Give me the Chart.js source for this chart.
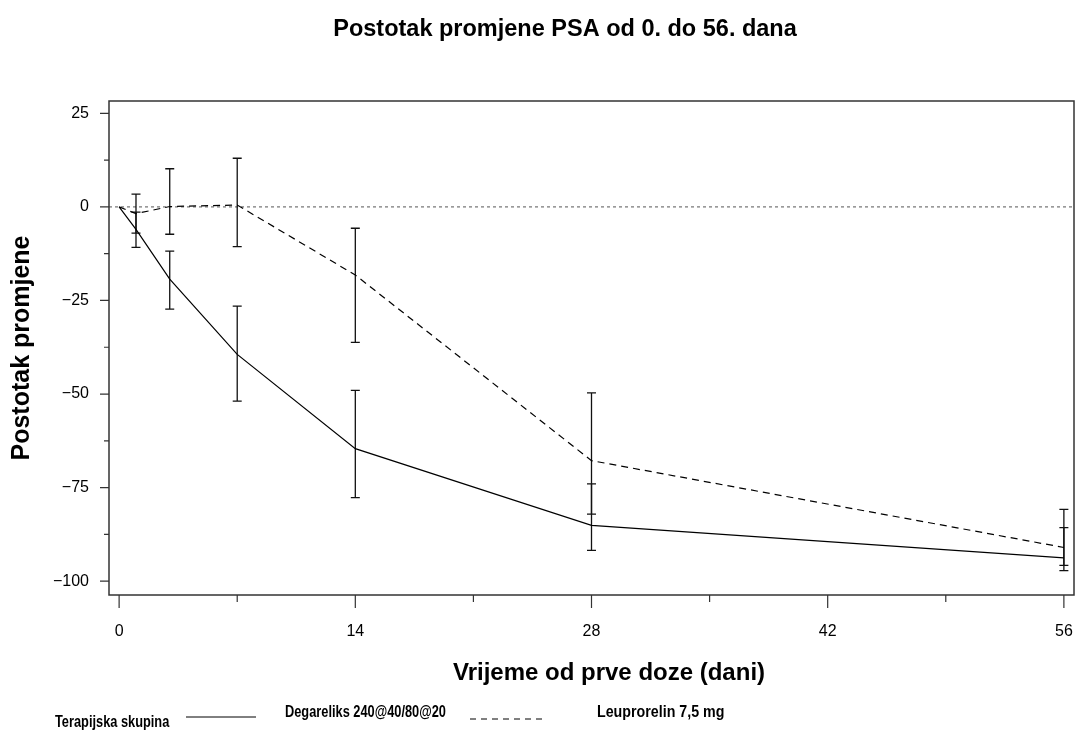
<!DOCTYPE html>
<html>
<head>
<meta charset="utf-8">
<script src="https://cdn.jsdelivr.net/npm/chart.js@4.4.0/dist/chart.umd.min.js"></script>
<style>
  html, body { margin: 0; padding: 0; background: #fff; }
</style>
</head>
<body>
<canvas id="chart" width="1077" height="735"></canvas>
<script>
// days since first dose
const days = [0, 1, 3, 7, 14, 28, 56];

// Degareliks 240@40/80@20 (solid)
const degareliks = [0, -6.0, -19.3, -39.4, -64.6, -85.1, -93.8];
const degLower = [null, -10.8, -27.3, -51.9, -77.7, -91.8, -95.8];
const degUpper = [null, -1.4, -11.8, -26.5, -49.0, -74.0, -85.7];

// Leuprorelin 7,5 mg (dashed)
const leuprorelin = [0, -1.8, 0.1, 0.5, -18.2, -67.8, -91.0];
const leuLower = [null, -7.0, -7.3, -10.6, -36.2, -82.1, -97.2];
const leuUpper = [null, 3.4, 10.2, 13.0, -5.7, -49.7, -80.8];

const xTicks = [0, 14, 28, 42, 56];
const xMinor = [7, 21, 35, 49];
const yTicks = [25, 0, -25, -50, -75, -100];
const yMinor = [12.5, -12.5, -37.5, -62.5, -87.5];

const titleText = 'Postotak promjene PSA od 0. do 56. dana';
const xTitleText = 'Vrijeme od prve doze (dani)';

const toPoints = (vals) => days.map((d, i) => ({ x: d, y: vals[i] }));
const minus = (v) => String(v).replace('-', '\u2212');

Chart.defaults.font.family = "'Liberation Sans', Arial, sans-serif";
Chart.defaults.color = '#000';

// narrow-looking text for the legend row
function narrowText(ctx, text, x, y, sx) {
    ctx.save();
    ctx.translate(x, y);
    ctx.scale(sx, 1);
    ctx.fillText(text, 0, 0);
    ctx.restore();
}

// frame, tick marks, zero line, error bars, titles and the legend row
const decorations = {
    id: 'decorations',
    beforeDatasetsDraw(chart) {
        const { ctx, chartArea: a, scales: { x, y } } = chart;
        ctx.save();
        // zero reference line
        ctx.strokeStyle = '#555';
        ctx.lineWidth = 1;
        ctx.setLineDash([3, 3]);
        ctx.beginPath();
        ctx.moveTo(a.left, y.getPixelForValue(0));
        ctx.lineTo(a.right, y.getPixelForValue(0));
        ctx.stroke();
        ctx.setLineDash([]);

        // error bars
        ctx.strokeStyle = '#111';
        ctx.lineWidth = 1.3;
        const bars = (lo, hi) => {
            days.forEach((d, i) => {
                if (lo[i] === null) return;
                const px = x.getPixelForValue(d);
                const p1 = y.getPixelForValue(lo[i]);
                const p2 = y.getPixelForValue(hi[i]);
                ctx.beginPath();
                ctx.moveTo(px, p1); ctx.lineTo(px, p2);
                ctx.moveTo(px - 4.5, p1); ctx.lineTo(px + 4.5, p1);
                ctx.moveTo(px - 4.5, p2); ctx.lineTo(px + 4.5, p2);
                ctx.stroke();
            });
        };
        bars(degLower, degUpper);
        bars(leuLower, leuUpper);
        ctx.restore();
    },
    afterDraw(chart) {
        const { ctx, chartArea: a, scales: { x, y } } = chart;
        ctx.save();
        ctx.strokeStyle = '#333';
        ctx.lineWidth = 1.5;
        ctx.strokeRect(a.left, a.top, a.right - a.left, a.bottom - a.top);

        ctx.lineWidth = 1.2;
        ctx.beginPath();
        xTicks.forEach(v => { const p = x.getPixelForValue(v); ctx.moveTo(p, a.bottom); ctx.lineTo(p, a.bottom + 13); });
        xMinor.forEach(v => { const p = x.getPixelForValue(v); ctx.moveTo(p, a.bottom); ctx.lineTo(p, a.bottom + 7); });
        yTicks.forEach(v => { const p = y.getPixelForValue(v); ctx.moveTo(a.left, p); ctx.lineTo(a.left - 9, p); });
        yMinor.forEach(v => { const p = y.getPixelForValue(v); ctx.moveTo(a.left, p); ctx.lineTo(a.left - 5, p); });
        ctx.stroke();

        // chart title and x axis title
        ctx.fillStyle = '#000';
        ctx.textAlign = 'center';
        ctx.textBaseline = 'middle';
        ctx.font = "bold 23.5px 'Liberation Sans', sans-serif";
        ctx.fillText(titleText, 565, 30);
        ctx.font = "bold 24px 'Liberation Sans', sans-serif";
        ctx.fillText(xTitleText, 609, 673);

        // legend row
        ctx.textAlign = 'left';
        ctx.font = "bold 16px 'Liberation Sans', sans-serif";
        narrowText(ctx, 'Terapijska skupina', 55, 723, 0.8);
        narrowText(ctx, 'Degareliks 240@40/80@20', 285, 713, 0.8);
        narrowText(ctx, 'Leuprorelin 7,5 mg', 597, 713, 0.89);
        ctx.strokeStyle = '#000';
        ctx.lineWidth = 1;
        ctx.beginPath();
        ctx.moveTo(186, 717); ctx.lineTo(256, 717);
        ctx.stroke();
        ctx.setLineDash([6, 5]);
        ctx.beginPath();
        ctx.moveTo(470, 719); ctx.lineTo(546, 719);
        ctx.stroke();
        ctx.restore();
    }
};

new Chart(document.getElementById('chart'), {
    type: 'line',
    data: {
        datasets: [{
            label: 'Degareliks 240@40/80@20',
            data: toPoints(degareliks),
            borderColor: '#000',
            borderWidth: 1.2,
            pointRadius: 0,
            tension: 0,
        }, {
            label: 'Leuprorelin 7,5 mg',
            data: toPoints(leuprorelin),
            borderColor: '#000',
            borderWidth: 1.2,
            borderDash: [7, 5],
            pointRadius: 0,
            tension: 0,
        }],
    },
    options: {
        responsive: false,
        animation: false,
        layout: { padding: { left: 0, right: 3, top: 101, bottom: 47.6 } },
        plugins: {
            legend: { display: false },
            tooltip: { enabled: false },
            title: { display: false },
        },
        scales: {
            x: {
                type: 'linear',
                min: -0.6,
                max: 56.6,
                grid: { display: false, drawTicks: false },
                border: { display: false },
                afterBuildTicks: (scale) => { scale.ticks = xTicks.map(v => ({ value: v })); },
                afterFit: (scale) => {
                    scale.height = 92.4;
                    scale.paddingLeft = 0;
                    scale.paddingRight = 0;
                },
                ticks: { font: { size: 16 }, padding: 27, maxRotation: 0, callback: minus },
            },
            y: {
                min: -103.7,
                max: 28.3,
                grid: { display: false, drawTicks: false },
                border: { display: false },
                afterBuildTicks: (scale) => { scale.ticks = yTicks.map(v => ({ value: v })); },
                afterFit: (scale) => {
                    scale.width = 109;
                    scale.paddingTop = 0;
                    scale.paddingBottom = 0;
                },
                ticks: { font: { size: 16 }, padding: 20, callback: minus },
                title: {
                    display: true,
                    text: 'Postotak promjene',
                    font: { size: 25, weight: 'bold' },
                    padding: { top: 7, bottom: 0 },
                },
            },
        },
    },
    plugins: [decorations],
});
</script>
</body>
</html>
